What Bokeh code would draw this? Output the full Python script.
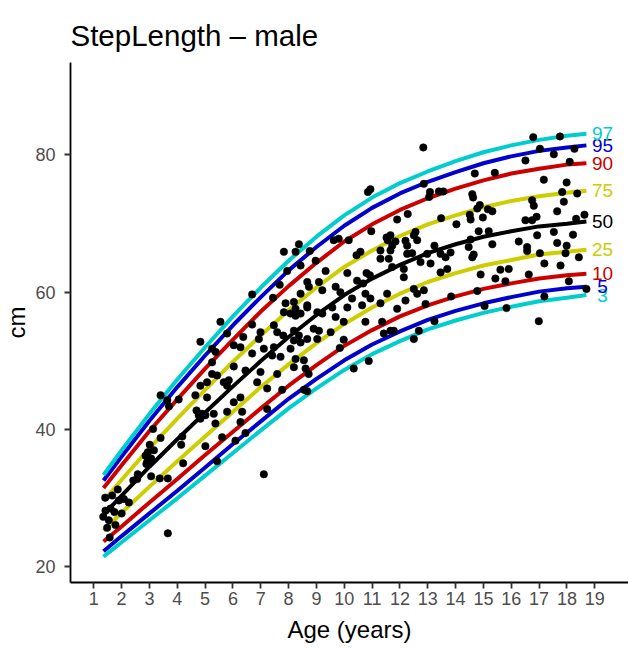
from bokeh.plotting import figure
from bokeh.models import Range1d, FixedTicker, ColumnDataSource
from bokeh.embed import file_html
from bokeh.resources import INLINE
from bokeh.core.properties import value

# ---------------- data ----------------
ages = [1.35, 2, 3, 4, 5, 6, 7, 8, 9, 10, 11, 12, 13, 14, 15, 16, 17, 18, 18.7]
c3  = [21.5, 23.6, 26.8, 30.0, 33.3, 36.6, 39.9, 43.1, 46.0, 48.7, 51.0, 52.9, 54.6, 55.9, 57.0, 57.9, 58.7, 59.2, 59.6]
c5  = [22.3, 24.5, 27.8, 31.1, 34.5, 37.9, 41.2, 44.5, 47.4, 50.1, 52.4, 54.3, 56.0, 57.3, 58.4, 59.3, 60.1, 60.6, 60.8]
c10 = [23.7, 25.9, 29.4, 32.8, 36.3, 39.7, 43.1, 46.4, 49.4, 52.2, 54.5, 56.5, 58.1, 59.4, 60.5, 61.3, 62.0, 62.5, 62.7]
c25 = [25.3, 27.9, 31.7, 35.4, 39.0, 42.6, 46.2, 49.5, 52.6, 55.4, 57.8, 59.8, 61.5, 62.8, 63.9, 64.7, 65.5, 65.9, 66.2]
c50 = [27.6, 30.4, 34.6, 38.6, 42.5, 46.3, 50.0, 53.5, 56.7, 59.6, 62.0, 64.0, 65.7, 67.0, 68.1, 68.9, 69.6, 70.0, 70.3]
c75 = [29.6, 32.7, 37.3, 41.6, 45.8, 49.9, 53.7, 57.4, 60.7, 63.7, 66.1, 68.2, 69.9, 71.2, 72.4, 73.3, 74.0, 74.5, 74.8]
c90 = [31.5, 34.8, 39.8, 44.4, 48.9, 53.1, 57.2, 60.9, 64.3, 67.4, 69.9, 72.0, 73.7, 75.1, 76.3, 77.3, 78.0, 78.6, 78.8]
c95 = [32.6, 36.1, 41.3, 46.2, 50.8, 55.2, 59.3, 63.2, 66.6, 69.7, 72.3, 74.4, 76.1, 77.5, 78.8, 79.8, 80.6, 81.1, 81.4]
c97 = [33.4, 37.0, 42.3, 47.3, 52.0, 56.5, 60.7, 64.6, 68.1, 71.2, 73.8, 75.9, 77.6, 79.1, 80.4, 81.4, 82.2, 82.8, 83.1]

centile_names = ["3", "5", "10", "25", "50", "75", "90", "95", "97"]
centile_values = [c3, c5, c10, c25, c50, c75, c90, c95, c97]
centile_colors = ["#00CDCD", "#0000CD", "#CD0000", "#CDCD00", "#000000",
                  "#CDCD00", "#CD0000", "#0000CD", "#00CDCD"]

pt_age = [16.79, 17.75, 17.03, 17.53, 18.27, 16.51, 18.10, 14.69, 15.41, 17.17, 17.99,
          13.08, 13.05, 13.40, 13.56, 14.60, 14.63, 17.83, 18.37, 16.75, 16.81, 14.87,
          14.78, 15.16, 15.32, 17.89, 17.65, 13.48, 14.51, 14.54, 14.98, 14.03, 16.51,
          16.75, 16.91, 18.63, 18.33, 14.83, 15.19, 14.54, 15.32, 16.27, 16.57, 16.57,
          16.93, 17.53, 18.22, 17.65, 17.99, 17.95, 13.24, 13.46, 13.64, 14.47, 14.65,
          14.60, 13.82, 17.03, 18.43, 13.10, 13.70, 13.46, 17.19, 17.77, 14.90, 15.61,
          15.91, 15.43, 15.79, 16.63, 18.07, 18.70, 13.84, 14.78, 17.19, 15.04, 15.83,
          13.24, 16.99,
          12.84, 10.85, 10.94, 12.86, 11.90, 12.28, 10.97, 9.62, 9.80, 10.16, 11.52,
          11.56, 11.66, 12.20, 12.26, 12.50, 12.56, 12.62,
          11.36, 10.76, 9.98, 8.90, 9.09, 8.19, 8.37, 9.51, 9.03, 9.98, 9.84, 11.42,
          11.66, 11.78, 12.68, 12.50, 8.19, 8.61, 8.72, 10.34, 10.88, 8.55, 8.67,
          8.37, 7.83, 8.25, 8.76, 7.95, 8.43, 9.33, 7.68, 8.67, 9.09, 9.21, 6.69, 7.44, 7.83,
          7.89, 8.19, 8.67, 8.43, 8.25, 8.07, 5.55, 5.79, 4.83, 5.25, 5.38, 6.03, 6.37,
          6.27, 6.69, 6.99, 6.93, 7.47, 7.59, 7.11, 7.81, 8.07, 8.19, 8.43, 8.67, 6.69,
          7.47, 7.41, 7.71, 8.25, 8.55, 5.25, 6.03, 5.25, 5.43, 5.67, 5.85, 5.07, 4.83,
          6.45, 6.99, 7.59, 4.65, 3.40, 3.64, 3.70, 4.05, 5.07, 5.79, 6.27, 6.03, 6.87,
          7.23, 7.77, 4.69, 4.77, 4.83, 4.89, 5.01, 5.31, 5.37, 5.79, 6.33, 5.61, 6.09,
          6.27, 6.45, 7.23, 7.11,
          3.13, 4.18, 4.14, 3.40, 3.01, 2.94, 3.16, 2.86, 2.89, 3.06, 2.92, 5.01, 4.21,
          5.43, 2.58, 2.56, 2.42, 3.06, 3.37, 3.66, 1.86, 1.41, 1.66, 1.90, 2.08, 2.26,
          1.42, 1.60, 1.74, 1.34, 2.00, 1.54, 1.48, 1.78, 1.57, 3.66,
          11.30, 11.66, 11.72, 11.84, 10.58, 10.44, 11.30, 11.60, 11.72, 12.26, 12.44,
          12.98, 12.74, 10.80, 10.92, 10.46, 10.68, 12.14, 12.14, 10.11, 9.69, 9.86,
          10.28, 10.76, 10.94, 10.64, 11.30, 11.54, 11.90, 12.50, 12.62, 12.86, 12.92,
          12.20, 9.03, 9.21, 9.57, 9.69, 10.11, 8.67, 8.43, 8.25, 8.97, 8.73]
pt_val = [82.6, 82.7, 80.9, 80.1, 80.9, 79.2, 79.0, 77.3, 77.4, 76.4, 76.0,
          74.6, 73.9, 74.7, 74.7, 74.3, 73.8, 74.6, 74.4, 73.4, 72.6, 72.7,
          72.2, 72.1, 71.8, 73.2, 71.8, 70.8, 71.3, 70.6, 70.9, 69.9, 70.5,
          70.5, 71.0, 71.3, 70.7, 68.9, 68.9, 67.7, 67.0, 67.4, 66.6, 66.0,
          68.3, 68.8, 68.4, 67.2, 66.8, 65.7, 66.8, 65.6, 65.1, 66.6, 65.5,
          65.1, 65.8, 65.7, 65.1, 64.2, 63.4, 62.9, 64.2, 63.9, 62.6, 63.3,
          63.4, 62.0, 61.6, 62.6, 61.6, 60.5, 59.4, 60.2, 59.4, 58.0, 57.7,
          55.8, 55.8,
          81.1, 74.6, 75.0, 75.8, 70.6, 71.4, 68.9, 67.6, 67.8, 67.6, 68.0,
          67.6, 68.3, 67.5, 66.8, 68.3, 68.8, 67.6,
          55.7, 55.7, 55.7, 54.7, 54.4, 54.4, 53.7, 54.2, 53.2, 53.1, 51.9, 54.0,
          54.4, 54.4, 54.4, 53.2, 49.1, 48.9, 48.1, 48.9, 50.0, 45.8, 45.6,
          67.0, 65.9, 65.9, 66.0, 63.1, 63.9, 63.1, 61.1, 61.5, 61.5, 60.3, 59.7, 59.2, 57.1,
          58.4, 58.6, 57.8, 56.9, 56.6, 56.9, 55.7, 54.0, 52.8, 51.8, 51.3, 52.3, 53.5,
          52.0, 55.3, 54.2, 53.2, 55.2, 54.2, 51.8, 53.7, 51.8, 53.0, 52.7, 53.2, 51.1,
          52.0, 50.8, 50.6, 50.3, 50.1, 49.8, 49.2, 48.1, 47.9, 46.9, 47.2, 46.9, 46.4,
          48.6, 48.4, 48.1, 45.0, 45.0, 44.3, 43.4, 44.4, 44.7, 46.4, 44.7, 44.0, 46.9,
          46.0, 45.8, 42.8, 42.1, 41.6, 42.3, 42.1, 42.3, 40.9, 42.6, 42.6, 38.9, 38.4,
          41.1, 39.5, 43.0, 33.5,
          40.1, 39.0, 37.8, 38.8, 37.8, 36.7, 37.0, 36.2, 35.0, 35.8, 35.3, 37.6, 35.1,
          35.4, 33.5, 32.8, 32.6, 33.2, 32.9, 32.9, 31.3, 30.1, 30.4, 29.7, 29.9, 29.4,
          28.2, 28.5, 28.0, 27.3, 27.8, 26.8, 25.7, 26.1, 24.3, 24.9,
          66.1, 66.1, 66.8, 67.4, 65.9, 65.4, 64.9, 64.9, 63.7, 65.6, 65.7,
          65.6, 64.4, 62.8, 62.5, 61.7, 61.3, 63.4, 62.2, 62.8, 60.8, 60.0,
          59.1, 59.8, 59.1, 58.1, 58.4, 59.8, 57.6, 60.5, 59.8, 60.3, 58.3,
          58.8, 57.1, 56.9, 57.8, 56.4, 57.8, 58.1, 59.8, 57.6, 64.6, 60.8]

x_ticks = list(range(1, 20))
y_ticks = [20, 40, 60, 80]
label_age = 19.28

FONT = "Liberation Sans"

p = figure(width=628, height=652, output_backend="svg", toolbar_location=None,
           x_range=Range1d(0.163, 20.213), y_range=Range1d(17.74, 93.47),
           min_border_left=70, min_border_right=0, min_border_top=62,
           min_border_bottom=70, title="StepLength \u2013 male")

p.outline_line_color = None
p.xgrid.visible = False
p.ygrid.visible = False
p.background_fill_color = "white"
p.border_fill_color = "white"

p.title.text_font = FONT
p.title.text_font_size = "29.5px"
p.title.text_font_style = "normal"
p.title.text_color = "black"
p.title.align = "left"
p.title.standoff = 22

for ax in (p.xaxis[0], p.yaxis[0]):
    ax.axis_line_color = "black"
    ax.axis_line_width = 1.8
    ax.major_tick_line_color = "#333333"
    ax.major_tick_line_width = 1.8
    ax.major_tick_in = 0
    ax.major_tick_out = 6
    ax.minor_tick_line_color = None
    ax.major_label_text_font = FONT
    ax.major_label_text_font_size = "18px"
    ax.major_label_text_color = "#4D4D4D"
    ax.axis_label_text_font = FONT
    ax.axis_label_text_font_size = "24px"
    ax.axis_label_text_font_style = "normal"
    ax.axis_label_text_color = "black"

p.xaxis.ticker = FixedTicker(ticks=x_ticks)
p.yaxis.ticker = FixedTicker(ticks=y_ticks)
p.xaxis.axis_label = "Age (years)"
p.yaxis.axis_label = "cm"
p.xaxis.major_label_standoff = 3
p.yaxis.major_label_standoff = 9
p.xaxis.axis_label_standoff = 8
p.yaxis.axis_label_standoff = 2

for name, vals, col in zip(centile_names, centile_values, centile_colors):
    p.line(ages, vals, line_color=col, line_width=4)

p.scatter(pt_age, pt_val, size=7.5, fill_color="black", line_color="black", line_width=0.5)

for name, vals, col in zip(centile_names, centile_values, centile_colors):
    src = ColumnDataSource(dict(x=[label_age], y=[vals[-1]], t=[name]))
    p.text(x="x", y="y", text="t", source=src, text_color=col,
           text_font=value(FONT), text_font_size="19px",
           text_align="center", text_baseline="middle")

open("out.html", "w").write(file_html(p, INLINE))
